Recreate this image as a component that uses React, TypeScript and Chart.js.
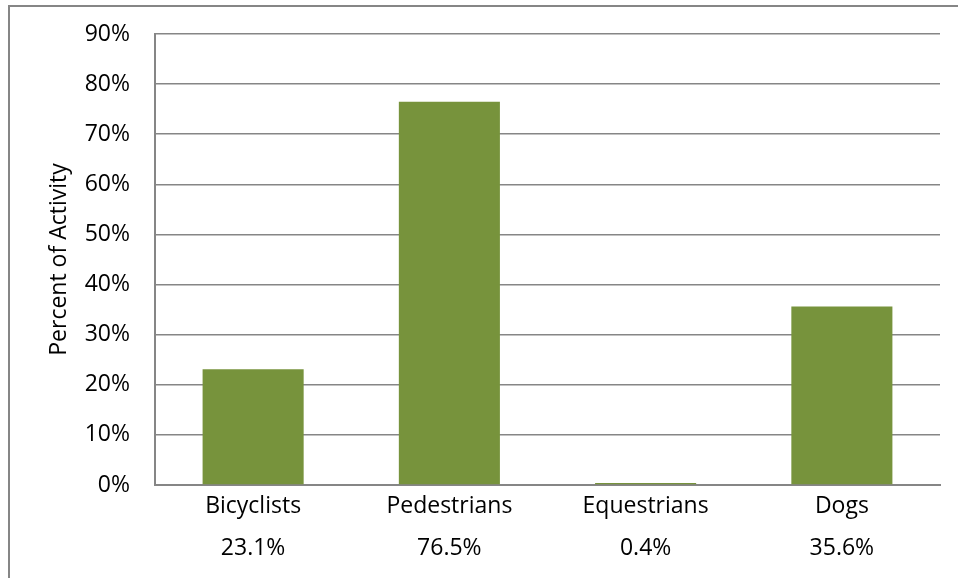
import React, { useEffect, useRef } from "react";
import { Chart, registerables } from "chart.js";

Chart.register(...registerables);

const categories = ["Bicyclists", "Pedestrians", "Equestrians", "Dogs"];
const values = [23.1, 76.5, 0.4, 35.6];
const valueLabels = ["23.1%", "76.5%", "0.4%", "35.6%"];
const yTicks = [0, 10, 20, 30, 40, 50, 60, 70, 80, 90];
const yTitle = "Percent of Activity";

export default function App() {
  const ref = useRef<HTMLCanvasElement | null>(null);
  useEffect(() => {
    if (!ref.current) return;
    const font = "'Open Sans', sans-serif";
    const chart = new Chart(ref.current, {
      type: "bar",
      data: {
        labels: categories.map((c, i) => [c, valueLabels[i]]),
        datasets: [
          {
            data: values,
            backgroundColor: "#77933C",
            barPercentage: 0.515,
            categoryPercentage: 1,
          },
        ],
      },
      options: {
        animation: false,
        responsive: false,
        maintainAspectRatio: false,
        layout: { padding: { left: 46, right: 18, top: 34, bottom: 0 } },
        plugins: { legend: { display: false }, tooltip: { enabled: false } },
        scales: {
          x: {
            grid: { display: false, drawTicks: false },
            border: { color: "#868686", width: 2 },
            afterFit: (axis: any) => {
              axis.height = 93;
              axis.paddingLeft = 0;
              axis.paddingRight = 0;
            },
            ticks: {
              color: "#000",
              padding: 0,
              maxRotation: 0,
              font: { family: font, size: 23, lineHeight: 42 / 23 },
            },
          },
          y: {
            min: 0,
            max: 90,
            afterBuildTicks: (axis: any) => {
              axis.ticks = yTicks.map((v) => ({ value: v }));
            },
            afterFit: (axis: any) => {
              axis.width = 109;
              axis.paddingTop = 0;
              axis.paddingBottom = 0;
            },
            grid: { color: "#868686", lineWidth: 1.5, drawTicks: false },
            border: { color: "#868686", width: 2 },
            ticks: {
              color: "#000",
              padding: 25,
              font: { family: font, size: 23 },
              callback: (v: any) => v + "%",
            },
            title: {
              display: true,
              text: yTitle,
              color: "#000",
              font: { family: font, size: 23 },
              padding: 0,
            },
          },
        },
      },
    });
    return () => chart.destroy();
  }, []);
  return (
    <div style={{ position: "fixed", left: 0, top: 0, width: 958, height: 578, background: "#fff", overflow: "hidden" }}>
      <div
        style={{
          position: "absolute",
          left: 8,
          top: 5,
          width: 1000,
          height: 1000,
          borderTop: "2px solid #868686",
          borderLeft: "2px solid #868686",
        }}
      />
      <canvas ref={ref} width={958} height={578} style={{ position: "absolute", left: 0, top: 0 }} />
    </div>
  );
}
